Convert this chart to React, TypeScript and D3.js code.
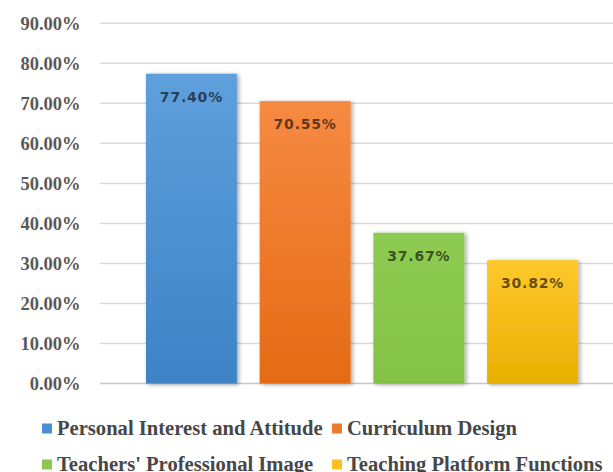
import React from "react";
import * as d3 from "d3";

const categories = [
  "Personal Interest and Attitude",
  "Curriculum Design",
  "Teachers' Professional Image",
  "Teaching Platform Functions",
];
const values = [77.4, 70.55, 37.67, 30.82];
const valueLabels = ["77.40%", "70.55%", "37.67%", "30.82%"];
const yTicks = [0, 10, 20, 30, 40, 50, 60, 70, 80, 90];
const colorsTop = ["#5e9fdc", "#f68a42", "#8ecb52", "#ffc82c"];
const colorsBottom = ["#3d83c5", "#e56b14", "#84c247", "#e8b000"];
const legendColors = ["#4a8fd3", "#ee7a2c", "#8cc850", "#fcc11e"];

const W = 613;
const H = 472;

export default function App() {
  const x = d3
    .scaleBand<string>()
    .domain(categories)
    .range([100, 624])
    .paddingInner(0.2)
    .paddingOuter(0.404);
  const y = d3.scaleLinear().domain([0, 90]).range([383.5, 23.3]);

  const legendPos = [
    { x: 42, y: 435 },
    { x: 332, y: 435 },
    { x: 42, y: 471 },
    { x: 332, y: 471 },
  ];

  return (
    <svg
      width={W}
      height={H}
      style={{ position: "absolute", left: 0, top: 0, background: "#fff" }}
    >
      <defs>
        {categories.map((c, i) => (
          <linearGradient key={c} id={`g${i}`} x1="0" y1="0" x2="0" y2="1">
            <stop offset="0%" stopColor={colorsTop[i]} />
            <stop offset="100%" stopColor={colorsBottom[i]} />
          </linearGradient>
        ))}
        <filter id="shadow" x="-20%" y="-20%" width="140%" height="140%">
          <feDropShadow dx="2" dy="1" stdDeviation="2" floodColor="#000" floodOpacity="0.35" />
        </filter>
      </defs>
      {yTicks.map((t) => (
        <g key={t}>
          <line
            x1={100}
            x2={624}
            y1={y(t)}
            y2={y(t)}
            stroke={t === 0 ? "#c8c8c8" : "#d9d9d9"}
            strokeWidth={1.5}
          />
          <text
            x={80.5}
            y={y(t)}
            dy="0.35em"
            textAnchor="end"
            fontFamily="'Liberation Serif', 'Times New Roman', serif"
            fontWeight="bold"
            fontSize={18.5}
            fill="#595959"
          >
            {d3.format(".2f")(t) + "%"}
          </text>
        </g>
      ))}
      {categories.map((c, i) => (
        <rect
          key={c}
          x={x(c)}
          y={y(values[i])}
          width={x.bandwidth()}
          height={y(0) - y(values[i])}
          fill={`url(#g${i})`}
          filter="url(#shadow)"
        />
      ))}
      {categories.map((c, i) => (
        <text
          key={c}
          x={(x(c) as number) + x.bandwidth() / 2}
          y={y(values[i]) + 28}
          textAnchor="middle"
          fontFamily="'DejaVu Sans', Verdana, sans-serif"
          fontWeight="bold"
          fontSize={14}
          letterSpacing={0.8}
          fill="#000"
          fillOpacity={0.62}
        >
          {valueLabels[i]}
        </text>
      ))}
      {categories.map((c, i) => (
        <g key={c} transform={`translate(${legendPos[i].x},${legendPos[i].y})`}>
          <rect x={0} y={-11.5} width={10} height={10} fill={legendColors[i]} />
          <text
            x={15}
            y={0}
            fontFamily="'Liberation Serif', 'Times New Roman', serif"
            fontWeight="bold"
            fontSize={20.6}
            fill="#474747"
          >
            {c}
          </text>
        </g>
      ))}
    </svg>
  );
}
